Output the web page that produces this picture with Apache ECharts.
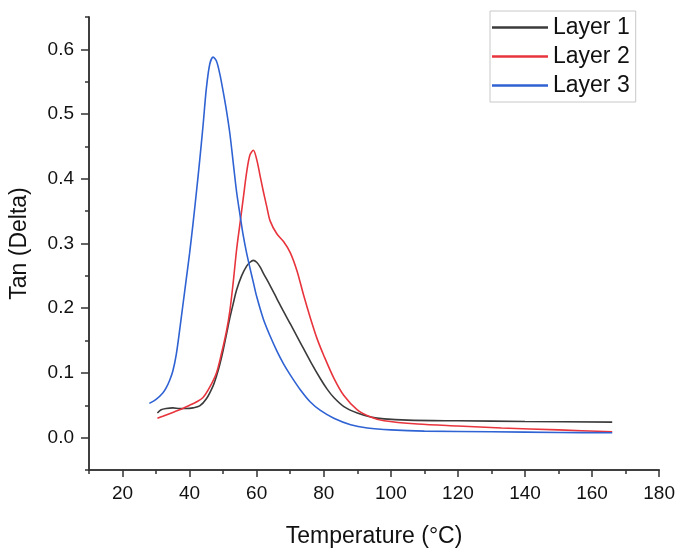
<!DOCTYPE html>
<html>
<head>
<meta charset="utf-8">
<script src="https://cdn.jsdelivr.net/npm/echarts@6/dist/echarts.min.js"></script>
<style>html,body{margin:0;padding:0;background:#fff}#c{width:678px;height:553px}</style>
</head>
<body>
<div id="c"></div>
<script>
// ---- data ----
const seriesNames = ['Layer 1', 'Layer 2', 'Layer 3'];

const layer1Temp = [30.4, 31.5, 33, 35, 37, 39, 41, 43, 45, 47, 48, 49, 50, 51, 52, 53, 54, 55.5, 57, 58, 59, 60, 61, 62, 64, 66, 68, 70, 73, 76, 79, 81, 83, 86, 90, 94, 98, 105, 120, 140, 166];
const layer1Tan  = [0.038, 0.043, 0.045, 0.046, 0.045, 0.045, 0.046, 0.049, 0.06, 0.08, 0.095, 0.113, 0.135, 0.16, 0.185, 0.207, 0.228, 0.25, 0.265, 0.271, 0.274, 0.271, 0.264, 0.254, 0.235, 0.215, 0.195, 0.176, 0.147, 0.118, 0.091, 0.075, 0.062, 0.048, 0.038, 0.032, 0.029, 0.027, 0.026, 0.025, 0.024];

const layer2Temp = [30.4, 32, 34, 36, 38, 40, 42, 44, 46, 48, 49.5, 51, 52, 53, 54, 55, 56, 57, 58, 59, 60, 61, 62, 63, 64, 66, 68, 70, 72, 74, 76, 78, 80, 83, 86, 90, 94, 98, 108, 120, 133, 150, 166];
const layer2Tan  = [0.030, 0.033, 0.037, 0.041, 0.045, 0.05, 0.055, 0.062, 0.078, 0.1, 0.13, 0.165, 0.196, 0.24, 0.29, 0.33, 0.37, 0.41, 0.437, 0.444, 0.43, 0.405, 0.38, 0.357, 0.335, 0.315, 0.303, 0.286, 0.258, 0.22, 0.185, 0.153, 0.127, 0.092, 0.065, 0.043, 0.032, 0.026, 0.021, 0.018, 0.015, 0.012, 0.009];

const layer3Temp = [28, 30, 32, 33, 34, 35, 36, 37, 38, 39, 40, 41, 42, 43, 44, 45, 46, 47, 48, 49, 50, 51, 52, 53, 54, 55, 56, 57, 58, 59, 60, 62, 64, 66, 68, 70, 73, 76, 79, 83, 88, 93, 100, 110, 130, 150, 166];
const layer3Tan  = [0.053, 0.059, 0.069, 0.077, 0.088, 0.103, 0.128, 0.165, 0.205, 0.245, 0.285, 0.33, 0.378, 0.428, 0.482, 0.54, 0.577, 0.588, 0.582, 0.562, 0.535, 0.505, 0.47, 0.425, 0.38, 0.345, 0.312, 0.285, 0.262, 0.24, 0.218, 0.183, 0.157, 0.134, 0.114, 0.097, 0.074, 0.055, 0.042, 0.03, 0.02, 0.015, 0.012, 0.01, 0.009, 0.008, 0.0075];

const xMajorTicks = [20, 40, 60, 80, 100, 120, 140, 160, 180];
const xMinorTicks = [10, 30, 50, 70, 90, 110, 130, 150, 170];
const yMajorTicks = [0, 0.1, 0.2, 0.3, 0.4, 0.5, 0.6];
const yMinorTicks = [-0.05, 0.05, 0.15, 0.25, 0.35, 0.45, 0.55, 0.65];

const xTitle = 'Temperature (°C)';
const yTitle = 'Tan (Delta)';
// --------------------------------------

const zip = (a, b) => a.map((v, i) => [v, b[i]]);
const FONT = 'Liberation Sans, Arial, sans-serif';
const axisColor = '#333';
const colors = ['#3b3b3b', '#e8343c', '#2f62d3'];

const chart = echarts.init(document.getElementById('c'), null, {renderer: 'canvas'});

const baseX = {
  type: 'value', min: 10, max: 180, gridIndex: 0, position: 'bottom',
  axisLine: {show: true, onZero: false, lineStyle: {color: axisColor, width: 1.5}},
  splitLine: {show: false}
};
const baseY = {
  type: 'value', min: -0.05, max: 0.65, gridIndex: 0, position: 'left',
  axisLine: {show: true, onZero: false, lineStyle: {color: axisColor, width: 1.5}},
  splitLine: {show: false}
};

chart.setOption({
  animation: false,
  backgroundColor: '#fff',
  grid: {left: 86, right: 14, top: 17, bottom: 73, containLabel: false},
  legend: {
    data: seriesNames.map(n => ({name: n, icon: 'rect'})),
    orient: 'vertical',
    left: 490, top: 11,
    padding: [5, 6, 5, 2],
    itemGap: 6,
    itemWidth: 56,
    itemHeight: 2.5,
    backgroundColor: '#fff',
    borderColor: '#c8c8c8',
    borderWidth: 1,
    textStyle: {fontFamily: FONT, fontSize: 23, color: '#111', lineHeight: 23}
  },
  xAxis: [
    Object.assign({}, baseX, {
      name: xTitle, nameLocation: 'middle', nameGap: 55,
      nameTextStyle: {fontFamily: FONT, fontSize: 23, color: '#111'},
      axisTick: {show: true, customValues: xMajorTicks, length: 7, lineStyle: {color: axisColor, width: 1.5}},
      axisLabel: {show: true, customValues: xMajorTicks, margin: 14, fontFamily: FONT, fontSize: 19, color: '#111'}
    }),
    Object.assign({}, baseX, {
      axisTick: {show: true, customValues: xMinorTicks, length: 4, lineStyle: {color: axisColor, width: 1.5}},
      axisLabel: {show: false}
    })
  ],
  yAxis: [
    Object.assign({}, baseY, {
      name: yTitle, nameLocation: 'middle', nameGap: 58,
      nameTextStyle: {fontFamily: FONT, fontSize: 23, color: '#111'},
      axisTick: {show: true, customValues: yMajorTicks, length: 8, lineStyle: {color: axisColor, width: 1.5}},
      axisLabel: {show: true, customValues: yMajorTicks, margin: 15, fontFamily: FONT, fontSize: 19, color: '#111',
        formatter: v => Number(v).toFixed(1)}
    }),
    Object.assign({}, baseY, {
      axisTick: {show: true, customValues: yMinorTicks, length: 4, lineStyle: {color: axisColor, width: 1.5}},
      axisLabel: {show: false}
    })
  ],
  series: [
    {name: seriesNames[0], type: 'line', data: zip(layer1Temp, layer1Tan), smooth: 0.3, symbol: 'none', showSymbol: false,
      lineStyle: {color: colors[0], width: 1.6}, itemStyle: {color: colors[0]}},
    {name: seriesNames[1], type: 'line', data: zip(layer2Temp, layer2Tan), smooth: 0.3, symbol: 'none', showSymbol: false,
      lineStyle: {color: colors[1], width: 1.6}, itemStyle: {color: colors[1]}},
    {name: seriesNames[2], type: 'line', data: zip(layer3Temp, layer3Tan), smooth: 0.3, symbol: 'none', showSymbol: false,
      lineStyle: {color: colors[2], width: 1.6}, itemStyle: {color: colors[2]}}
  ]
});
</script>
</body>
</html>
